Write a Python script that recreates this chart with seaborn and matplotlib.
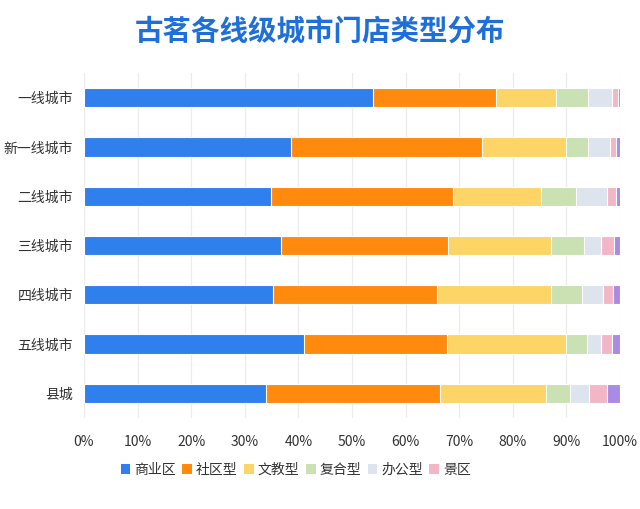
import matplotlib
matplotlib.use("Agg")
import matplotlib.pyplot as plt
import seaborn as sns
import numpy as np
from matplotlib.patches import Patch

# City tiers (top to bottom) and store-type shares in percent
cities = ["一线城市", "新一线城市", "二线城市", "三线城市", "四线城市", "五线城市", "县城"]
store_types = ["商业区", "社区型", "文教型", "复合型", "办公型", "景区", "其他"]

shangye = [53.9, 38.6, 34.9, 36.8, 35.3, 41.1, 33.9]
shequ = [23.0, 35.6, 34.0, 31.1, 30.6, 26.6, 32.5]
wenjiao = [11.1, 15.8, 16.3, 19.3, 21.3, 22.3, 19.8]
fuhe = [6.1, 4.0, 6.6, 6.0, 5.8, 3.8, 4.4]
bangong = [4.4, 4.1, 5.7, 3.3, 3.9, 2.7, 3.7]
jingqu = [1.2, 1.1, 1.7, 2.3, 1.8, 2.0, 3.2]
qita = [0.3, 0.8, 0.8, 1.2, 1.3, 1.5, 2.5]

colors = ["#2F80ED", "#FF8A0E", "#FDD466", "#C9E1B3", "#DEE4EE", "#F3B6C6", "#A98BE3"]

sns.set_style("white")
plt.rcParams["font.family"] = ["Noto Sans CJK SC", "DejaVu Sans"]

fig = plt.figure(figsize=(6.4, 5.09), dpi=100)
ax = fig.add_axes([84 / 640, 1 - 418 / 509, 536 / 640, 345 / 509])

series = [shangye, shequ, wenjiao, fuhe, bangong, jingqu, qita]
cum = np.cumsum(np.array(series), axis=0)

# draw cumulative totals from the widest down so each segment shows
for i in range(len(series) - 1, -1, -1):
    sns.barplot(x=cum[i], y=cities, orient="h", color=colors[i], width=0.39,
                linewidth=0.8, edgecolor="white", saturation=1, ax=ax)

ax.set_xlim(0, 100)
ax.set_ylim(6.5, -0.5)
ax.set_xticks(range(0, 101, 10))
ax.set_xticklabels([f"{t}%" for t in range(0, 101, 10)])
ax.set_xlabel("")
ax.set_ylabel("")
ax.grid(axis="x", color="#ECECEC", linewidth=0.9)
ax.set_axisbelow(True)
for s in ax.spines.values():
    s.set_visible(False)
ax.tick_params(axis="x", length=0, pad=12, labelsize=10, labelcolor="#333333")
ax.tick_params(axis="y", length=0, pad=8, labelsize=10, labelcolor="#333333")

fig.suptitle("古茗各线级城市门店类型分布", x=0.5, y=1 - 32 / 509, va="center",
             fontsize=20.5, fontweight="bold", color="#1F6FDB")

handles = [Patch(facecolor=colors[i], edgecolor="none", label=store_types[i]) for i in range(6)]
fig.legend(handles=handles, loc="center left", bbox_to_anchor=(108 / 640, 39 / 509),
           ncol=6, frameon=False, fontsize=10, handlelength=0.7, handleheight=0.7,
           handletextpad=0.3, columnspacing=0.45, labelcolor="#333333")

fig.savefig("out.png", dpi=100, facecolor="white")
